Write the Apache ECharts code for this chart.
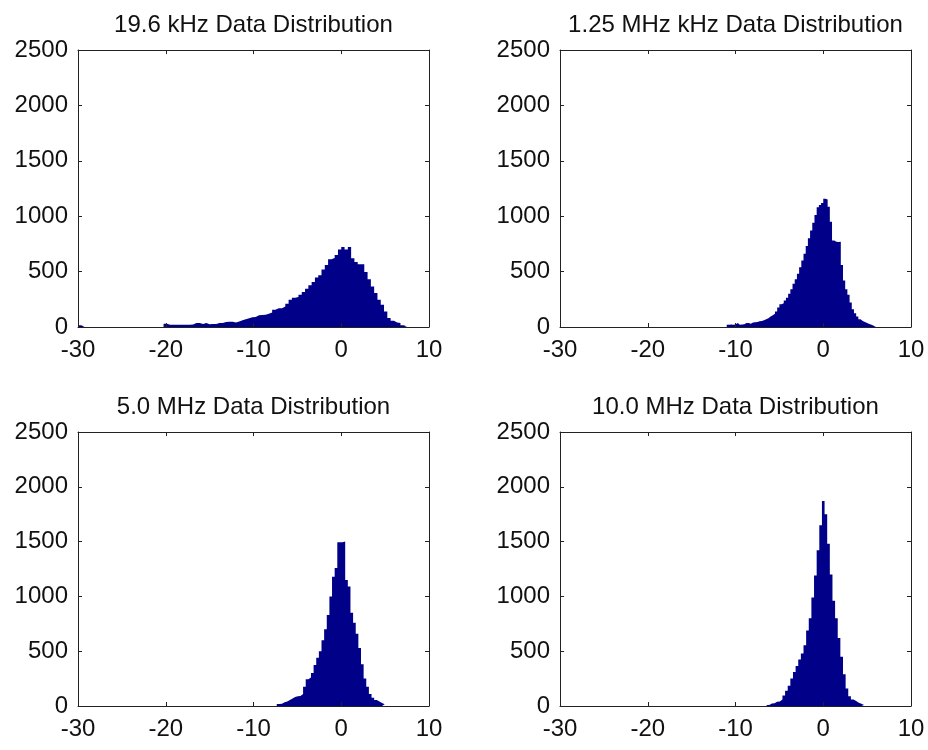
<!DOCTYPE html>
<html><head><meta charset="utf-8">
<script src="https://cdn.jsdelivr.net/npm/echarts@6/dist/echarts.min.js"></script>
<style>html,body{margin:0;padding:0;background:#fff}#c{width:928px;height:750px}</style>
</head><body><div id="c"></div>
<script>
// ---- data ----
const titles = ['19.6 kHz Data Distribution', '1.25 MHz kHz Data Distribution', '5.0 MHz Data Distribution', '10.0 MHz Data Distribution'];
const xTickLabels = [-30, -20, -10, 0, 10];
const yTickLabels = [0, 500, 1000, 1500, 2000, 2500];
// histogram bin grids (first bin edge, bin width)
const binStart = [-30, -11, -7.35, -6.45];
const binWidth = [0.375, 0.25, 0.3, 0.3];
const counts19k6 = [15, 0,0,0,0,0,0,0,0,0,0,0,0,0,0,0,0,0,0,0,0,0,0,0,0,0,
  30,20,20,20,20,20,21,21,22,35, 35,28,35,25,28,28,36,36,45,48,
  48,40,50,60,70,78,88,90,105,108, 110,120,130,155,170,170,185,210,
  245,265,271,290,316,346,377,407,446,467, 520,560,611,622,650,700,722,700,722,620,
  587,566,566,497,430,366,306,246,200,141, 81,57,40,36,15,5];
const counts1M25 = [20,22,20,22,35,20,22,25,35,35, 30,40,42,45,52,55,61,70,78,95,
  105,120,140,175,205,215,240,265,300,340, 390,430,480,540,600,660,730,800,870,940,
  1010,1080,1100,1120,1158,1150,1085,950,780,770, 767,770,560,420,340,290,220,160,125,95,
  70,55,45,35,28,20,12,5];
const counts5M = [18,20,35,42,55,68,82,90,92,110, 175,245,260,300,375,440,500,600,700,830,
  1000,1180,1260,1495,1495,1500,1150,1090,850,760, 660,530,380,250,175,110,75,55,40,28, 15];
const counts10M = [8,22,25,38,42,60,95,140,185,250, 310,365,425,480,555,690,800,990,1190,1420,
  1650,1870,1750,1480,1200,960,800,620,450,290, 160,90,60,45,30,20,8];
const allCounts = [counts19k6, counts1M25, counts5M, counts10M];

// ---- layout / style ----
const grids = [
  {left: 78, top: 50, width: 351, height: 277},
  {left: 560, top: 50, width: 351, height: 277},
  {left: 78, top: 432, width: 351, height: 274},
  {left: 560, top: 432, width: 351, height: 274}
];
const FONT = '"Liberation Sans", Arial, sans-serif';
const AX = '#222';
const BAR = '#000088';

const xAxes = [], yAxes = [], series = [], graphics = [];
grids.forEach((g, i) => {
  const tick = {show: true, inside: true, length: 4, lineStyle: {color: AX, width: 1}};
  const line = {show: true, onZero: false, lineStyle: {color: AX, width: 1}};
  const xr = {min: xTickLabels[0], max: xTickLabels[xTickLabels.length - 1], interval: xTickLabels[1] - xTickLabels[0]};
  const yr = {min: yTickLabels[0], max: yTickLabels[yTickLabels.length - 1], interval: yTickLabels[1] - yTickLabels[0]};
  const plain = v => String(v);
  xAxes.push(Object.assign({gridIndex: i, type: 'value', position: 'bottom', axisLine: line, axisTick: tick,
    axisLabel: {fontSize: 24, color: '#111', fontFamily: FONT, margin: 11, formatter: plain}, splitLine: {show: false}, z: 5}, xr));
  xAxes.push(Object.assign({gridIndex: i, type: 'value', position: 'top', axisLine: line, axisTick: tick,
    axisLabel: {show: false}, splitLine: {show: false}, z: 5}, xr));
  yAxes.push(Object.assign({gridIndex: i, type: 'value', position: 'left', axisLine: line, axisTick: tick,
    axisLabel: {fontSize: 24, color: '#111', fontFamily: FONT, margin: 10, formatter: plain}, splitLine: {show: false}, z: 5}, yr));
  yAxes.push(Object.assign({gridIndex: i, type: 'value', position: 'right', axisLine: line, axisTick: tick,
    axisLabel: {show: false}, splitLine: {show: false}, z: 5}, yr));
  const w = binWidth[i], s0 = binStart[i], cs = allCounts[i];
  // histogram outline: each bin's left edge with its count, closed at the last right edge
  const pts = cs.map((c, k) => [s0 + w * k, c]);
  pts.push([s0 + w * cs.length, 0]);
  series.push({
    type: 'line', xAxisIndex: 2 * i, yAxisIndex: 2 * i, silent: true, step: 'end',
    showSymbol: false, symbol: 'none', data: pts,
    lineStyle: {color: BAR, width: 0}, itemStyle: {color: BAR},
    areaStyle: {color: BAR, opacity: 1, origin: 'start'}, z: 1
  });
  graphics.push({type: 'text', x: g.left + g.width / 2, y: g.top - 25, style: {
    text: titles[i], fill: '#111', font: '24px ' + FONT, textAlign: 'center', textVerticalAlign: 'middle'}});
});

const chart = echarts.init(document.getElementById('c'), null, {renderer: 'canvas'});
chart.setOption({
  animation: false,
  backgroundColor: '#fff',
  grid: grids.map(g => Object.assign({containLabel: false}, g)),
  xAxis: xAxes, yAxis: yAxes, series: series, graphic: graphics
});
</script></body></html>
